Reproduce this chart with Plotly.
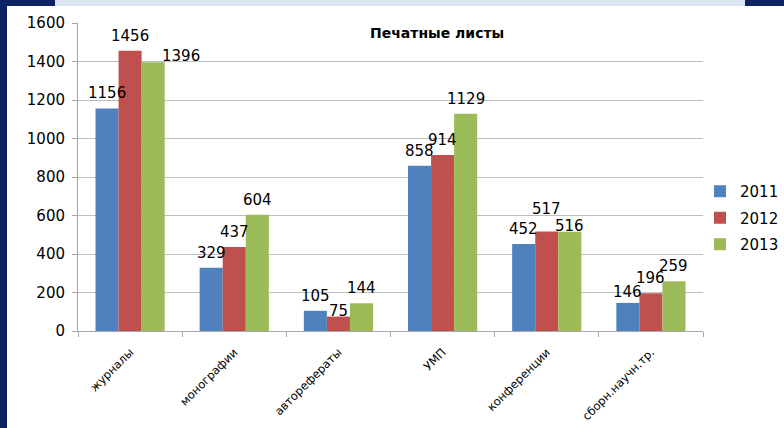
import plotly.graph_objects as go

categories = ["журналы", "монографии", "авторефераты", "УМП", "конференции", "сборн.научн.тр."]
years = ["2011", "2012", "2013"]
v2011 = [1156, 329, 105, 858, 452, 146]
v2012 = [1456, 437, 75, 914, 517, 196]
v2013 = [1396, 604, 144, 1129, 516, 259]
colors = ["#4F81BD", "#C0504D", "#9BBB59"]
series = [v2011, v2012, v2013]

# label nudges (pixels) to mimic the original label placement
label_dx = [[0, 0, 0, 0, 0, 0], [0, 0, 0, 0, 0, 0], [28, 0, 0, 0, 0, 0]]
label_dy = [[0, 0, 0, 0, 0, -4], [0, 0, -9, 0, 7, 0], [-9, 0, 0, 0, -9, 0]]

FONT = "DejaVu Sans, Open Sans, sans-serif"
NUMFONT = dict(size=15, color="#000000", family=FONT)

fig = go.Figure()
for i, (name, vals) in enumerate(zip(years, series)):
    fig.add_trace(go.Bar(
        x=categories, y=vals, name=name,
        marker=dict(color=colors[i], line=dict(width=0)),
        legendgroup=name,
    ))

# plot area: x 78..703, y 23..331
L, R, T, B = 78, 703, 23, 331
W, H = R - L, B - T
BAR_W = 23
def px(p):
    return (p - L) / W
def py(q):
    return (B - q) / H

annotations = [dict(text="<b>Печатные листы</b>", xref="paper", yref="paper",
                    x=px(437), y=py(33), xanchor="center", yanchor="middle",
                    showarrow=False, font=dict(size=14, family=FONT, color="#000000"))]
for i, vals in enumerate(series):
    for j, v in enumerate(vals):
        annotations.append(dict(
            text=str(v), x=categories[j], y=v, xref="x", yref="y",
            xanchor="center", yanchor="bottom", showarrow=False, borderpad=0,
            xshift=(i - 1) * BAR_W + label_dx[i][j], yshift=5 + label_dy[i][j],
            font=NUMFONT,
        ))

shapes = [
    dict(type="rect", xref="paper", yref="paper", x0=px(0), x1=px(7), y0=py(428), y1=py(0),
         fillcolor="#0B2263", line=dict(width=0), layer="above"),
    dict(type="rect", xref="paper", yref="paper", x0=px(0), x1=px(55), y0=py(6), y1=py(0),
         fillcolor="#0B2263", line=dict(width=0), layer="above"),
    dict(type="rect", xref="paper", yref="paper", x0=px(55), x1=px(745), y0=py(6), y1=py(0),
         fillcolor="#DCE6F2", line=dict(width=0), layer="above"),
    dict(type="rect", xref="paper", yref="paper", x0=px(745), x1=px(784), y0=py(6), y1=py(0),
         fillcolor="#0B2263", line=dict(width=0), layer="above"),
]

fig.update_layout(
    width=784, height=428,
    margin=dict(l=L, r=784 - R, t=T, b=428 - B, pad=0, autoexpand=False),
    paper_bgcolor="white", plot_bgcolor="white",
    barmode="group", bargap=0.336, bargroupgap=0,
    font=dict(family=FONT, color="#000000"),
    showlegend=True,
    legend=dict(xref="container", yref="container",
                x=700 / 784, xanchor="left", y=(428 - 218) / 428, yanchor="middle",
                font=dict(size=15, family=FONT), traceorder="grouped",
                tracegroupgap=4, itemwidth=30, bgcolor="rgba(0,0,0,0)"),
    shapes=shapes,
    annotations=annotations,
)
fig.update_xaxes(
    type="category", tickangle=-45, tickfont=dict(size=11.5, family=FONT),
    showline=True, linecolor="#A6A6A6", linewidth=1,
    ticks="outside", ticklen=5, tickcolor="#A6A6A6", tickson="boundaries",
    ticklabelstandoff=9, showgrid=False,
)
fig.update_yaxes(
    range=[0, 1600], dtick=200, tickfont=dict(size=15, family=FONT),
    showline=True, linecolor="#A6A6A6", linewidth=1,
    ticks="outside", ticklen=5, tickcolor="#A6A6A6", ticklabelstandoff=4,
    showgrid=True, gridcolor="#BFBFBF", gridwidth=1, zeroline=False,
)

fig.write_html("out.html", config={"displayModeBar": False},
               post_script="document.body.style.margin='0';document.body.style.overflow='hidden';")
